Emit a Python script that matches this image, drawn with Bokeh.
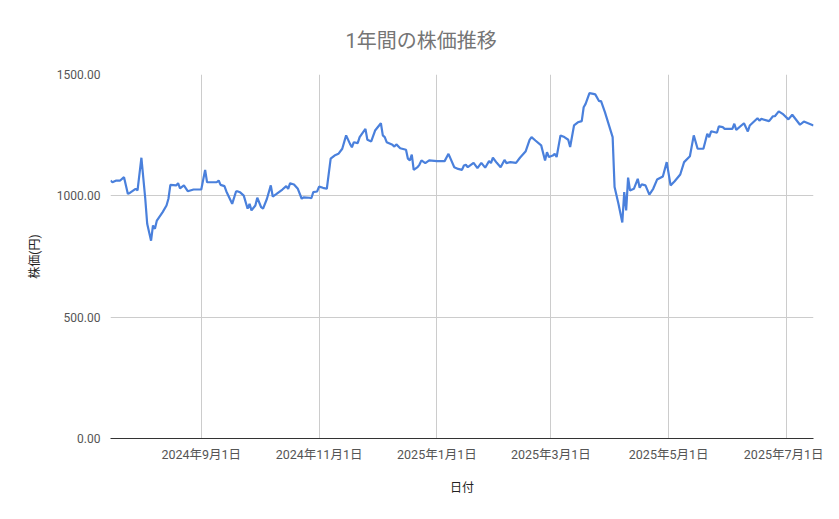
import pandas as pd
from bokeh.plotting import figure
from bokeh.models import FixedTicker, NumeralTickFormatter, Range1d
from bokeh.embed import file_html
from bokeh.resources import INLINE

dates = [
    "2024-07-16", "2024-07-17", "2024-07-19", "2024-07-21", "2024-07-23", "2024-07-25", "2024-07-26",
    "2024-07-29", "2024-07-30", "2024-08-01", "2024-08-03", "2024-08-04", "2024-08-06", "2024-08-07",
    "2024-08-08", "2024-08-09", "2024-08-12", "2024-08-14", "2024-08-15", "2024-08-16", "2024-08-19",
    "2024-08-20", "2024-08-21", "2024-08-23", "2024-08-25", "2024-08-28", "2024-08-30", "2024-09-01",
    "2024-09-03", "2024-09-04", "2024-09-07", "2024-09-09", "2024-09-10", "2024-09-11", "2024-09-13",
    "2024-09-14", "2024-09-17", "2024-09-19", "2024-09-20", "2024-09-21", "2024-09-23", "2024-09-25",
    "2024-09-26", "2024-09-27", "2024-09-29", "2024-09-30", "2024-10-02", "2024-10-03", "2024-10-05",
    "2024-10-07", "2024-10-08", "2024-10-10", "2024-10-13", "2024-10-15", "2024-10-16", "2024-10-17",
    "2024-10-19", "2024-10-21", "2024-10-23", "2024-10-24", "2024-10-27", "2024-10-28", "2024-10-29",
    "2024-10-31", "2024-11-01", "2024-11-03", "2024-11-05", "2024-11-07", "2024-11-09", "2024-11-11",
    "2024-11-13", "2024-11-15", "2024-11-17", "2024-11-18", "2024-11-19", "2024-11-21", "2024-11-22",
    "2024-11-25", "2024-11-26", "2024-11-28", "2024-11-30", "2024-12-03", "2024-12-04", "2024-12-05",
    "2024-12-06", "2024-12-09", "2024-12-10", "2024-12-11", "2024-12-13", "2024-12-16", "2024-12-17",
    "2024-12-18", "2024-12-19", "2024-12-20", "2024-12-22", "2024-12-23", "2024-12-24", "2024-12-26",
    "2024-12-28", "2025-01-01", "2025-01-05", "2025-01-07", "2025-01-10", "2025-01-12", "2025-01-14",
    "2025-01-15", "2025-01-16", "2025-01-17", "2025-01-20", "2025-01-22", "2025-01-24", "2025-01-26",
    "2025-01-28", "2025-01-29", "2025-01-30", "2025-02-01", "2025-02-03", "2025-02-05", "2025-02-06",
    "2025-02-08", "2025-02-11", "2025-02-13", "2025-02-16", "2025-02-18", "2025-02-19", "2025-02-21",
    "2025-02-24", "2025-02-26", "2025-02-27", "2025-02-28", "2025-03-02", "2025-03-03", "2025-03-04",
    "2025-03-06", "2025-03-08", "2025-03-10", "2025-03-11", "2025-03-13", "2025-03-15", "2025-03-17",
    "2025-03-18", "2025-03-19", "2025-03-21", "2025-03-23", "2025-03-24", "2025-03-26", "2025-03-27",
    "2025-03-29", "2025-04-02", "2025-04-03", "2025-04-05", "2025-04-07", "2025-04-08", "2025-04-09",
    "2025-04-10", "2025-04-11", "2025-04-13", "2025-04-15", "2025-04-16", "2025-04-17", "2025-04-19",
    "2025-04-21", "2025-04-23", "2025-04-25", "2025-04-28", "2025-04-30", "2025-05-02", "2025-05-04",
    "2025-05-07", "2025-05-09", "2025-05-12", "2025-05-14", "2025-05-16", "2025-05-19", "2025-05-21",
    "2025-05-22", "2025-05-23", "2025-05-26", "2025-05-27", "2025-05-29", "2025-05-30", "2025-06-03",
    "2025-06-04", "2025-06-05", "2025-06-09", "2025-06-11", "2025-06-12", "2025-06-16", "2025-06-17",
    "2025-06-18", "2025-06-22", "2025-06-24", "2025-06-25", "2025-06-27", "2025-06-29", "2025-07-02",
    "2025-07-04", "2025-07-08", "2025-07-10", "2025-07-15",
]

prices = [
    1063, 1056, 1063, 1063, 1077, 1008, 1012,
    1029, 1022, 1157, 988, 885, 815, 878,
    864, 898, 933, 960, 988, 1045, 1043,
    1052, 1031, 1043, 1019, 1026, 1026, 1026,
    1107, 1056, 1056, 1056, 1063, 1045, 1040,
    1018, 967, 1018, 1018, 1015, 1001, 947,
    967, 940, 960, 992, 953, 947, 988,
    1043, 997, 1008, 1026, 1040, 1029, 1052,
    1047, 1029, 988, 994, 992, 990, 1015,
    1018, 1038, 1033, 1029, 1153, 1166, 1173,
    1194, 1249, 1214, 1200, 1221, 1217, 1242,
    1276, 1231, 1224, 1269, 1299, 1249, 1242,
    1221, 1210, 1203, 1212, 1196, 1190, 1153,
    1146, 1170, 1107, 1118, 1129, 1146, 1135,
    1146, 1143, 1143, 1173, 1118, 1111, 1107,
    1125, 1128, 1118, 1136, 1114, 1136, 1116,
    1143, 1135, 1157, 1136, 1118, 1148, 1135,
    1139, 1136, 1157, 1184, 1231, 1242, 1228,
    1208, 1146, 1180, 1160, 1166, 1173, 1160,
    1249, 1242, 1231, 1201, 1290, 1303, 1308,
    1365, 1379, 1423, 1420, 1418, 1390, 1390,
    1345, 1242, 1036, 967, 890, 1015, 940,
    1075, 1022, 1029, 1070, 1033, 1047, 1043,
    1005, 1029, 1067, 1080, 1139, 1043, 1059,
    1088, 1139, 1163, 1249, 1194, 1194, 1256,
    1242, 1266, 1260, 1286, 1283, 1276, 1276,
    1297, 1272, 1299, 1265, 1290, 1320, 1310,
    1317, 1308, 1328, 1328, 1348, 1338, 1315,
    1334, 1293, 1306, 1290,
]

tick_dates = ["2024-09-01", "2024-11-01", "2025-01-01", "2025-03-01", "2025-05-01", "2025-07-01"]
tick_labels = ["2024年9月1日", "2024年11月1日", "2025年1月1日", "2025年3月1日", "2025年5月1日", "2025年7月1日"]
y_ticks = [0, 500, 1000, 1500]

title_text = "1年間の株価推移"
x_label = "日付"
y_label = "株価(円)"

FONT = "Roboto, 'Noto Sans CJK JP', sans-serif"

x = pd.to_datetime(dates)
tick_ms = [float(pd.Timestamp(d).value // 10**6) for d in tick_dates]

p = figure(
    width=823, height=503,
    x_axis_type="datetime",
    output_backend="svg", toolbar_location=None,
    x_range=Range1d(pd.Timestamp("2024-07-16"), pd.Timestamp("2025-07-15")),
    y_range=Range1d(0, 1500),
    min_border_left=110, min_border_right=10, min_border_top=74, min_border_bottom=65,
)
p.outline_line_color = None
p.background_fill_color = "white"
p.border_fill_color = "white"

p.title.text = title_text
p.title.align = "left"
p.title.offset = 235
p.title.vertical_align = "top"
p.title.text_font = FONT
p.title.text_font_size = "20px"
p.title.text_font_style = "normal"
p.title.text_color = "#757575"
p.title.standoff = 40

p.line(x, prices, line_color="#4a80dc", line_width=2.2)

xt = FixedTicker(ticks=tick_ms)
p.xaxis.ticker = xt
p.xgrid.ticker = xt
p.xaxis.major_label_overrides = {t: l for t, l in zip(tick_ms, tick_labels)}
p.xgrid.grid_line_color = "#cccccc"
p.xaxis.axis_line_color = "#333333"
p.xaxis.axis_line_width = 1
p.xaxis.major_tick_line_color = None
p.xaxis.minor_tick_line_color = None
p.xaxis.major_label_text_font = FONT
p.xaxis.major_label_text_font_size = "12.5px"
p.xaxis.major_label_text_color = "#555555"
p.xaxis.major_label_standoff = 2
p.xaxis.axis_label = x_label
p.xaxis.axis_label_text_font = FONT
p.xaxis.axis_label_text_font_size = "12px"
p.xaxis.axis_label_text_font_style = "normal"
p.xaxis.axis_label_text_color = "#222222"
p.xaxis.axis_label_standoff = 16

yt = FixedTicker(ticks=y_ticks)
p.yaxis.ticker = yt
p.ygrid.ticker = yt
p.ygrid.grid_line_color = "#cccccc"
p.yaxis.formatter = NumeralTickFormatter(format="0.00")
p.yaxis.axis_line_color = None
p.yaxis.major_tick_line_color = None
p.yaxis.minor_tick_line_color = None
p.yaxis.major_label_text_font = FONT
p.yaxis.major_label_text_font_size = "12px"
p.yaxis.major_label_text_color = "#555555"
p.yaxis.major_label_standoff = 4
p.yaxis.axis_label = y_label
p.yaxis.axis_label_text_font = FONT
p.yaxis.axis_label_text_font_size = "12px"
p.yaxis.axis_label_text_font_style = "normal"
p.yaxis.axis_label_text_color = "#222222"
p.yaxis.axis_label_standoff = 12

open("out.html", "w").write(file_html(p, INLINE))
